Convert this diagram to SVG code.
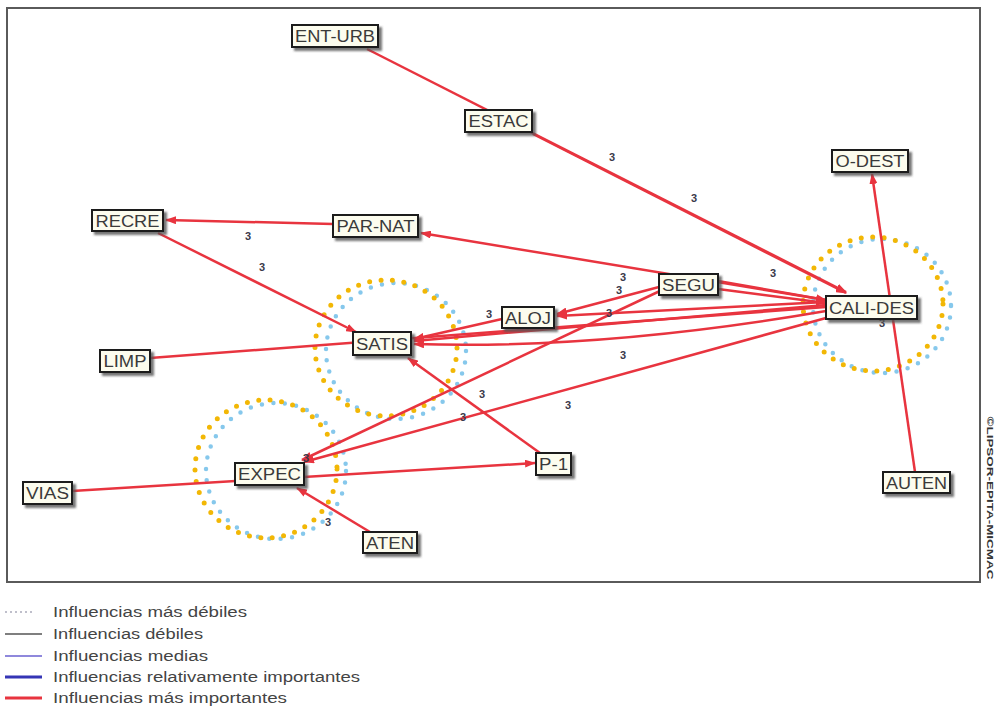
<svg xmlns="http://www.w3.org/2000/svg" width="996" height="708" viewBox="0 0 996 708">
<style>
.frame{fill:#fff;stroke:#5a5a5a;stroke-width:2}
.e{fill:none;stroke:#e8343f;stroke-width:2.5}
.a{marker-end:url(#arr)}
.lbl{font-family:"Liberation Sans",Arial,sans-serif;font-size:11px;font-weight:bold;fill:#3a3a4a;text-anchor:middle}
.box{fill:#fcfcee;stroke:#1e1e1e;stroke-width:2;filter:url(#sh)}
.nt{font-family:"Liberation Sans",Arial,sans-serif;font-size:16px;fill:#3a3a3a;text-anchor:middle}
.cy{fill:none;stroke:#f2b705;stroke-width:5;stroke-linecap:round;stroke-dasharray:0 11.5}
.cb{fill:none;stroke:#86c8ec;stroke-width:4.5;stroke-linecap:round;stroke-dasharray:0 11.5}
.lg{font-family:"Liberation Sans",Arial,sans-serif;font-size:14px;fill:#444}
</style>
<defs>
<marker id="arr" markerUnits="userSpaceOnUse" markerWidth="11" markerHeight="8" refX="10" refY="4" orient="auto">
<path d="M0,0 L11,4 L0,8 z" fill="#e8343f"/>
</marker>
<filter id="sh" x="-20%" y="-30%" width="150%" height="180%">
<feDropShadow dx="3" dy="3" stdDeviation="1.2" flood-color="#555" flood-opacity="0.8"/>
</filter>
</defs>
<rect class="frame" x="7" y="8" width="973" height="574"/>

<g id="circles">
<ellipse class="cb" cx="882" cy="306" rx="69" ry="67"/>
<ellipse class="cy" cx="873" cy="304" rx="70" ry="67"/>
<ellipse class="cb" cx="396" cy="351" rx="70" ry="68"/>
<ellipse class="cy" cx="386" cy="348" rx="71" ry="68"/>
<ellipse class="cb" cx="276" cy="471" rx="70" ry="68"/>
<ellipse class="cy" cx="266" cy="469" rx="71" ry="69"/>
</g>

<g id="connectors">
<path class="e a" d="M367,49 L846,292"/>
<path class="e a" d="M533,134 L846,293"/>
<path class="e a" d="M333,224 L166,220"/>
<path class="e a" d="M158,233 L356,332"/>
<path class="e a" d="M826,300 L421,233"/>
<path class="e a" d="M718,281 L826,300"/>
<path class="e a" d="M718,289 L826,303"/>
<path class="e a" d="M659,287 L557,314"/>
<path class="e a" d="M826,302 L557,316"/>
<path class="e a" d="M502,319 L414,339"/>
<path class="e a" d="M826,305 L414,341"/>
<path class="e" d="M150,358 L826,307"/>
<path class="e a" d="M826,311 Q600,350 414,344"/>
<path class="e a" d="M662,290 L302,460"/>
<path class="e a" d="M826,318 L304,462"/>
<path class="e a" d="M540,453 L408,358"/>
<path class="e a" d="M72,491 L535,463"/>
<path class="e a" d="M370,532 L297,488"/>
<path class="e a" d="M915,472 L872,174"/>
<text class="lbl" x="612" y="161">3</text>
<text class="lbl" x="694" y="202">3</text>
<text class="lbl" x="248" y="240">3</text>
<text class="lbl" x="262" y="271">3</text>
<text class="lbl" x="773" y="277">3</text>
<text class="lbl" x="623" y="281">3</text>
<text class="lbl" x="619" y="294">3</text>
<text class="lbl" x="489" y="318">3</text>
<text class="lbl" x="609" y="317">3</text>
<text class="lbl" x="623" y="359">3</text>
<text class="lbl" x="482" y="398">3</text>
<text class="lbl" x="463" y="421">3</text>
<text class="lbl" x="568" y="409">3</text>
<text class="lbl" x="328" y="526">3</text>
<text class="lbl" x="882" y="327">3</text>
<text class="lbl" x="306" y="462">3</text>
</g>

<g id="n-ENT-URB"><rect class="box" x="292" y="25" width="86" height="22"/><text class="nt" x="335" y="42" textLength="80" lengthAdjust="spacingAndGlyphs">ENT-URB</text></g>
<g id="n-ESTAC"><rect class="box" x="465" y="110" width="67" height="22"/><text class="nt" x="498.5" y="127" textLength="60" lengthAdjust="spacingAndGlyphs">ESTAC</text></g>
<g id="n-RECRE"><rect class="box" x="92" y="210" width="71" height="21"/><text class="nt" x="127.5" y="226.5" textLength="64" lengthAdjust="spacingAndGlyphs">RECRE</text></g>
<g id="n-PAR-NAT"><rect class="box" x="333" y="215" width="85" height="22"/><text class="nt" x="375.5" y="232" textLength="78" lengthAdjust="spacingAndGlyphs">PAR-NAT</text></g>
<g id="n-O-DEST"><rect class="box" x="832" y="150" width="76" height="22"/><text class="nt" x="870" y="167" textLength="69" lengthAdjust="spacingAndGlyphs">O-DEST</text></g>
<g id="n-SEGU"><rect class="box" x="659" y="274" width="59" height="21"/><text class="nt" x="688.5" y="290.5" textLength="53" lengthAdjust="spacingAndGlyphs">SEGU</text></g>
<g id="n-CALI-DES"><rect class="box" x="826" y="296" width="91" height="23"/><text class="nt" x="871.5" y="313.5" textLength="85" lengthAdjust="spacingAndGlyphs">CALI-DES</text></g>
<g id="n-ALOJ"><rect class="box" x="502" y="307" width="52" height="21"/><text class="nt" x="528" y="323.5" textLength="46" lengthAdjust="spacingAndGlyphs">ALOJ</text></g>
<g id="n-SATIS"><rect class="box" x="353" y="332" width="58" height="23"/><text class="nt" x="382" y="349.5" textLength="52" lengthAdjust="spacingAndGlyphs">SATIS</text></g>
<g id="n-LIMP"><rect class="box" x="100" y="350" width="50" height="22"/><text class="nt" x="125" y="367" textLength="43" lengthAdjust="spacingAndGlyphs">LIMP</text></g>
<g id="n-EXPEC"><rect class="box" x="235" y="463" width="69" height="22"/><text class="nt" x="269.5" y="480" textLength="63" lengthAdjust="spacingAndGlyphs">EXPEC</text></g>
<g id="n-VIAS"><rect class="box" x="23" y="482" width="49" height="22"/><text class="nt" x="47.5" y="499" textLength="43" lengthAdjust="spacingAndGlyphs">VIAS</text></g>
<g id="n-ATEN"><rect class="box" x="363" y="532" width="54" height="21"/><text class="nt" x="390" y="548.5" textLength="48" lengthAdjust="spacingAndGlyphs">ATEN</text></g>
<g id="n-P-1"><rect class="box" x="536" y="453" width="35" height="22"/><text class="nt" x="553.5" y="470" textLength="29" lengthAdjust="spacingAndGlyphs">P-1</text></g>
<g id="n-AUTEN"><rect class="box" x="883" y="472" width="67" height="21"/><text class="nt" x="916.5" y="488.5" textLength="61" lengthAdjust="spacingAndGlyphs">AUTEN</text></g>

<text transform="translate(987,498) rotate(90)" font-family="Liberation Sans, Arial, sans-serif" font-size="9" font-weight="bold" fill="#333" text-anchor="middle" textLength="163" lengthAdjust="spacingAndGlyphs">©LIPSOR-EPITA-MICMAC</text>

<g id="legend">
<line x1="5" y1="612" x2="34" y2="612" stroke="#aab" stroke-width="1.5" stroke-dasharray="2 3"/>
<line x1="5" y1="634" x2="42" y2="634" stroke="#555" stroke-width="1.5"/>
<line x1="5" y1="656" x2="42" y2="656" stroke="#6a60d0" stroke-width="1.5"/>
<line x1="5" y1="677" x2="42" y2="677" stroke="#3535b5" stroke-width="3"/>
<line x1="5" y1="698" x2="42" y2="698" stroke="#e8343f" stroke-width="3"/>
<text class="lg" x="53" y="617" textLength="194" lengthAdjust="spacingAndGlyphs">Influencias más débiles</text>
<text class="lg" x="53" y="639" textLength="150" lengthAdjust="spacingAndGlyphs">Influencias débiles</text>
<text class="lg" x="53" y="661" textLength="155" lengthAdjust="spacingAndGlyphs">Influencias medias</text>
<text class="lg" x="53" y="682" textLength="307" lengthAdjust="spacingAndGlyphs">Influencias relativamente importantes</text>
<text class="lg" x="53" y="703" textLength="234" lengthAdjust="spacingAndGlyphs">Influencias más importantes</text>
</g>
</svg>
